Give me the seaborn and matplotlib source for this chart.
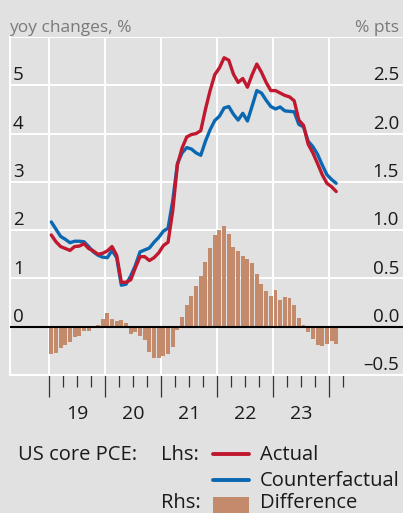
import matplotlib
matplotlib.use('Agg')
import matplotlib.pyplot as plt
import matplotlib.transforms as mtransforms
from matplotlib.lines import Line2D
from matplotlib.patches import Rectangle
import numpy as np
import pandas as pd
import seaborn as sns

# monthly, Jan 2019 .. Feb 2024
months = list(range(62))

actual = [1.90, 1.76, 1.66, 1.62, 1.58, 1.66, 1.67, 1.72, 1.62, 1.57,
          1.50, 1.52, 1.57, 1.66, 1.48, 0.92, 0.92, 0.97, 1.22, 1.45,
          1.45, 1.37, 1.43, 1.53, 1.68, 1.75, 2.40, 3.35, 3.70, 3.93,
          3.98, 4.00, 4.06, 4.50, 4.89, 5.22, 5.36, 5.57, 5.52, 5.23,
          5.06, 5.14, 4.96, 5.22, 5.44, 5.27, 5.06, 4.89, 4.89, 4.84,
          4.79, 4.76, 4.68, 4.28, 4.17, 3.78, 3.60, 3.38, 3.15, 2.97,
          2.90, 2.80]

counterfactual = [2.17, 2.02, 1.87, 1.81, 1.74, 1.77, 1.77, 1.76, 1.66, 1.55,
                  1.48, 1.44, 1.43, 1.58, 1.43, 0.86, 0.88, 1.05, 1.27, 1.55,
                  1.59, 1.63, 1.75, 1.85, 1.98, 2.04, 2.61, 3.38, 3.60, 3.71,
                  3.68, 3.60, 3.55, 3.84, 4.08, 4.27, 4.36, 4.53, 4.56, 4.40,
                  4.28, 4.42, 4.26, 4.57, 4.89, 4.84, 4.69, 4.56, 4.51, 4.55,
                  4.47, 4.46, 4.45, 4.19, 4.14, 3.84, 3.73, 3.57, 3.35, 3.15,
                  3.05, 2.97]

difference = [-0.28, -0.27, -0.22, -0.19, -0.16, -0.11, -0.10, -0.04, -0.04, 0.01,
              0.02, 0.08, 0.14, 0.08, 0.06, 0.065, 0.04, -0.08, -0.05, -0.10,
              -0.14, -0.26, -0.32, -0.32, -0.30, -0.285, -0.21, -0.035, 0.10, 0.22,
              0.32, 0.42, 0.52, 0.67, 0.82, 0.95, 1.00, 1.04, 0.96, 0.83,
              0.78, 0.73, 0.70, 0.655, 0.55, 0.44, 0.37, 0.32, 0.385, 0.28,
              0.31, 0.30, 0.23, 0.09, 0.02, -0.055, -0.13, -0.19, -0.20, -0.18,
              -0.15, -0.18]

left_ticks = [0, 1, 2, 3, 4, 5]
right_ticks = [-0.5, 0.0, 0.5, 1.0, 1.5, 2.0, 2.5]
right_labels = ['\u20130.5', '0.0', '0.5', '1.0', '1.5', '2.0', '2.5']
year_labels = ['19', '20', '21', '22', '23']

bg = '#e0e1e0'
red = '#c0182f'
blue = '#0a68b2'
brown = '#c38a6b'
txt = '#1a1a1a'

sns.set_theme(style='white')
plt.rcParams['font.family'] = ['Open Sans', 'DejaVu Sans']

df = pd.DataFrame({'month': months, 'actual': actual,
                   'counterfactual': counterfactual, 'difference': difference})

fig = plt.figure(figsize=(4.03, 5.13), dpi=100, facecolor=bg)
W, H = 403, 513
ax = fig.add_axes([10 / W, 1 - 375 / H, 393 / W, 338 / H])
ax.set_facecolor(bg)
ax_l = ax.twinx()

# bars on the right-hand scale
sns.barplot(data=df, x='month', y='difference', ax=ax, color=brown,
            saturation=1, width=0.85, linewidth=0, errorbar=None)
ax.axhline(0, color='black', lw=1.5, zorder=3)

# lines on the left-hand scale
sns.lineplot(data=df, x='month', y='counterfactual', ax=ax_l, color=blue, lw=2.4)
sns.lineplot(data=df, x='month', y='actual', ax=ax_l, color=red, lw=2.4)

ax.set_xlim(-8.84, 75.3)
ax.set_ylim(-0.5, 3.0)
ax_l.set_ylim(-1, 6)
for a in (ax, ax_l):
    a.set_xlabel('')
    a.set_ylabel('')

# grid + ticks
year_bounds = [-0.5, 11.5, 23.5, 35.5, 47.5, 59.5]
quarters = [2.5, 5.5, 8.5, 14.5, 17.5, 20.5, 26.5, 29.5, 32.5,
            38.5, 41.5, 44.5, 50.5, 53.5, 56.5, 62.5]
ax.set_xticks(year_bounds)
ax.set_xticks(quarters, minor=True)
ax.set_yticks([-0.5, 0.0, 0.5, 1.0, 1.5, 2.0, 2.5, 3.0])
ax.set_axisbelow(True)
ax.grid(True, which='major', color='white', lw=1.4)
ax.tick_params(axis='x', which='major', length=15.5, width=0.9, color='#333333',
               direction='out', labelbottom=False, bottom=True)
ax.tick_params(axis='x', which='minor', length=8.5, width=0.9, color='#333333',
               direction='out', bottom=True)
ax.tick_params(axis='y', length=0, labelleft=False)
ax_l.tick_params(axis='y', length=0, labelright=False)
ax_l.grid(False)

for s in ['top', 'right']:
    ax.spines[s].set_visible(False)
for s in ['left', 'bottom']:
    ax.spines[s].set_color('white')
    ax.spines[s].set_linewidth(1.5)
for s in ax_l.spines.values():
    s.set_visible(False)

# axis labels inside the plot
t_left = mtransforms.blended_transform_factory(ax_l.transAxes, ax_l.transData)
for v in left_ticks:
    ax_l.text(3 / 393, v + 0.1, str(v), transform=t_left, ha='left',
              va='baseline', fontsize=13.5, color=txt)
t_right = mtransforms.blended_transform_factory(ax.transAxes, ax.transData)
for v, lab in zip(right_ticks, right_labels):
    ax.text(389 / 393, v + 0.05, lab, transform=t_right, ha='right',
            va='baseline', fontsize=13.5, color=txt)

t_year = mtransforms.blended_transform_factory(ax.transData, fig.transFigure)
for i, lab in enumerate(year_labels):
    ax.text(12 * i + 5.5, 1 - 419 / H, lab, transform=t_year, ha='center',
            va='baseline', fontsize=14, color=txt)

fig.text(9 / W, 1 - 32.5 / H, 'yoy changes, %', fontsize=12.5, color='#7a7a7a',
         va='baseline')
fig.text(399 / W, 1 - 32.5 / H, '% pts', fontsize=12.5, color='#7a7a7a',
         va='baseline', ha='right')

# legend
fs = 14.5
fig.text(18 / W, 1 - 460.5 / H, 'US core PCE:', fontsize=fs, color=txt, va='baseline')
fig.text(161 / W, 1 - 460.5 / H, 'Lhs:', fontsize=fs, color=txt, va='baseline')
fig.add_artist(Line2D([213 / W, 249 / W], [1 - 453.5 / H] * 2, color=red, lw=2.8))
fig.text(260 / W, 1 - 460.5 / H, 'Actual', fontsize=fs, color=txt, va='baseline')
fig.add_artist(Line2D([213 / W, 249 / W], [1 - 480 / H] * 2, color=blue, lw=2.8))
fig.text(260 / W, 1 - 486.5 / H, 'Counterfactual', fontsize=fs, color=txt, va='baseline')
fig.text(161 / W, 1 - 508.5 / H, 'Rhs:', fontsize=fs, color=txt, va='baseline')
fig.add_artist(Rectangle((213 / W, 0), 36 / W, 16 / H, transform=fig.transFigure,
                         color=brown, lw=0))
fig.text(260 / W, 1 - 508.5 / H, 'Difference', fontsize=fs, color=txt, va='baseline')

fig.savefig('out.png', dpi=100, facecolor=bg)
